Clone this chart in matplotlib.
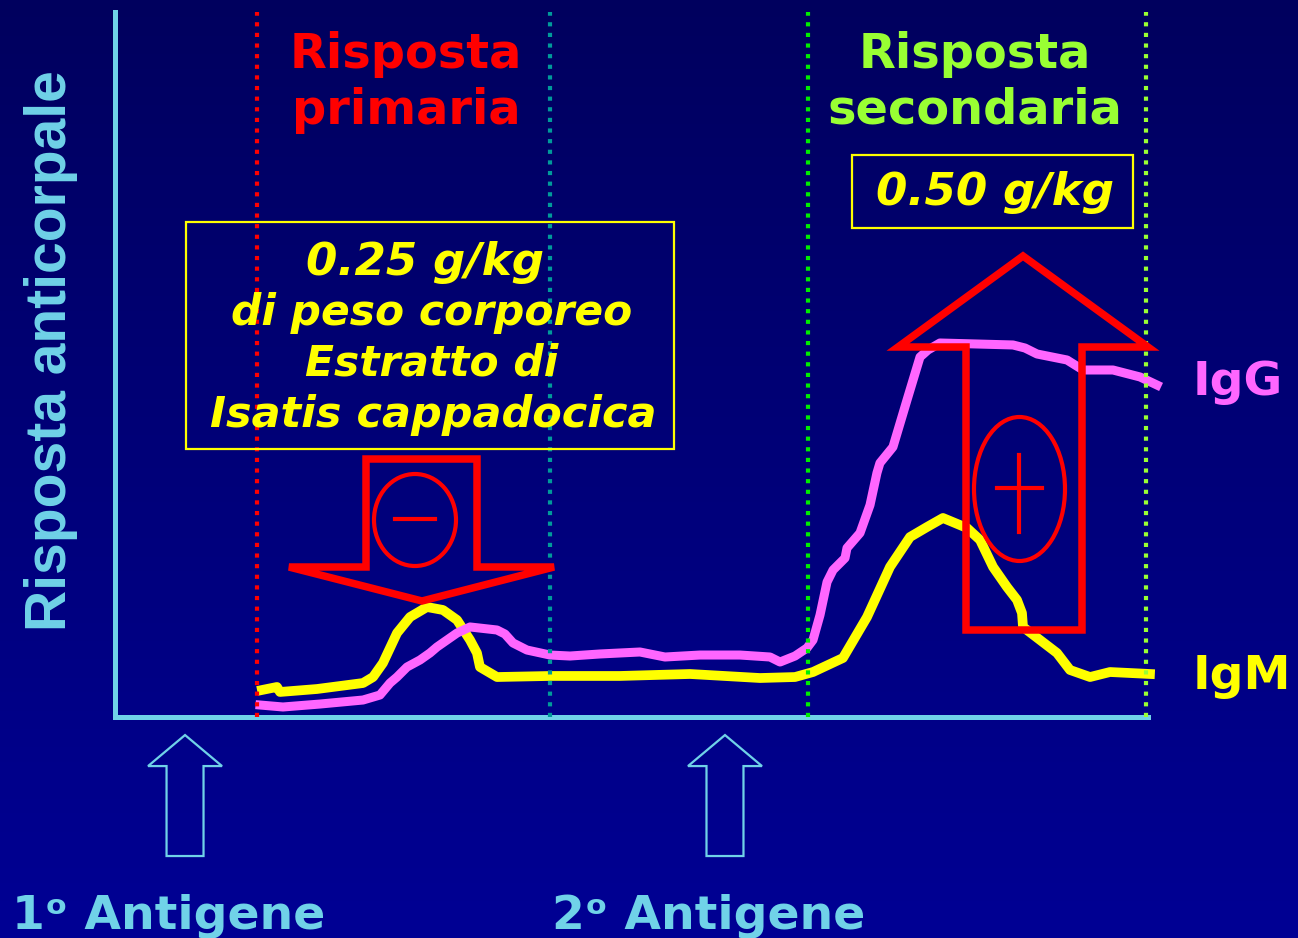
import matplotlib
matplotlib.use("Agg")
import matplotlib.pyplot as plt
from matplotlib.colors import LinearSegmentedColormap
from matplotlib.patches import Polygon, Ellipse, Rectangle, FancyArrow
import numpy as np

# time axis 0..100, response 0..100 (arbitrary units)
igg_x = [14.04, 16.26, 19.85, 24.01, 25.65, 26.62, 27.30, 28.27, 29.53, 30.49, 31.17,
         33.11, 34.37, 36.98, 37.75, 38.53, 39.88, 42.11, 44.05, 46.95, 50.82, 53.24,
         56.63, 60.50, 63.41, 64.38, 65.83, 66.99, 67.57, 68.25, 68.93, 69.51, 70.67,
         70.86, 72.12, 73.09, 73.76, 74.05, 75.31, 76.67, 77.93, 78.70, 79.86, 86.93,
         88.09, 89.26, 92.16, 93.71, 96.61, 99.23, 100.87]
igg_y = [1.70, 1.42, 1.84, 2.41, 3.12, 4.82, 5.67, 7.09, 8.09, 9.08, 9.93,
         11.91, 12.77, 12.34, 11.77, 10.50, 9.50, 8.79, 8.65, 8.94, 9.22, 8.51,
         8.79, 8.79, 8.51, 7.80, 8.65, 9.79, 10.92, 14.47, 19.15, 20.85, 22.55,
         23.97, 26.10, 30.07, 34.61, 36.03, 38.30, 44.96, 51.06, 52.06, 53.05, 52.77,
         52.34, 51.49, 50.64, 49.22, 49.22, 48.23, 47.09]

igm_x = [14.23, 15.68, 15.97, 19.55, 24.01, 24.98, 25.94, 27.30, 28.56, 30.20, 31.75,
         33.11, 34.37, 35.04, 35.33, 36.98, 42.11, 48.89, 55.66, 62.44, 65.83, 67.57,
         70.47, 72.80, 75.02, 76.96, 78.61, 80.15, 82.48, 83.74, 85.00, 86.35, 87.32,
         87.80, 87.90, 89.55, 91.19, 92.45, 94.39, 96.32, 100.19]
igm_y = [3.83, 4.26, 3.55, 3.97, 4.82, 5.67, 7.66, 11.91, 14.18, 15.60, 15.18,
         13.76, 10.92, 9.08, 7.09, 5.67, 5.82, 5.82, 6.10, 5.53, 5.67, 6.38,
         8.37, 14.18, 21.28, 25.53, 26.95, 28.23, 26.81, 25.11, 21.28, 18.44, 16.60,
         14.75, 12.77, 10.92, 9.08, 6.67, 5.67, 6.38, 6.10]

phase_x = [13.75, 42.11, 67.09, 99.81]
phase_colors = ['#ff0000', '#009a9a', '#00ee00', '#99ff33']
antigen_x = [6.78, 59.05]
antigen_labels = ['1ᵒ Antigene', '2ᵒ Antigene']

cyan = '#70d2e8'

fig = plt.figure(figsize=(12.98, 9.38), dpi=100)

# background gradient
bg = fig.add_axes([0, 0, 1, 1], zorder=0)
cmap = LinearSegmentedColormap.from_list('bg', ['#00005e', '#000094'])
bg.imshow(np.linspace(0, 1, 256).reshape(-1, 1), aspect='auto', cmap=cmap,
          extent=[0, 1, 0, 1], origin='upper')
bg.axis('off')

# data axes
ax = fig.add_axes([115 / 1298, 221 / 938, 1033 / 1298, 705 / 938], zorder=1)
ax.patch.set_alpha(0)
ax.set_xlim(0, 100)
ax.set_ylim(0, 100)
for s in ['top', 'right']:
    ax.spines[s].set_visible(False)
for s in ['left', 'bottom']:
    ax.spines[s].set_color(cyan)
    ax.spines[s].set_linewidth(3.6)
ax.set_xticks([])
ax.set_yticks([])

ax.plot(igm_x, igm_y, color='#ffff00', lw=7, solid_joinstyle='round', clip_on=False, zorder=3)
ax.plot(igg_x, igg_y, color='#ff66ff', lw=6.5, solid_joinstyle='round', clip_on=False, zorder=3)

for xp, c in zip(phase_x, phase_colors):
    ax.axvline(xp, color=c, lw=3, linestyle=(0, (1, 1.55)), zorder=4, clip_on=False)

for xa in antigen_x:
    ax.add_patch(FancyArrow(xa, -19.72, 0, 17.16, width=3.58, head_width=7.16,
                            head_length=4.40, length_includes_head=True,
                            fill=False, edgecolor=cyan, lw=1.6, clip_on=False))

ax.text(-6.2, 52, 'Risposta anticorpale', rotation=90, ha='center', va='center',
        color=cyan, fontsize=41, fontweight='bold', family='Liberation Sans',
        transform=ax.transData, clip_on=False)

# overlay in pixel coords for the annotations
ov = fig.add_axes([0, 0, 1, 1], zorder=2)
ov.set_xlim(0, 1298)
ov.set_ylim(938, 0)
ov.axis('off')
ov.patch.set_alpha(0)

red = '#ff0000'
down = [(366, 459), (477, 459), (477, 567), (554, 567), (422, 601), (289, 567), (366, 567)]
ov.add_patch(Polygon(down, closed=True, fill=False, edgecolor=red, lw=5.4, joinstyle='miter'))
ov.add_patch(Ellipse((415, 520), 82, 92, fill=False, edgecolor=red, lw=3))
ov.plot([395, 435], [519, 519], color=red, lw=3)

up = [(966, 630), (1082, 630), (1082, 347), (1148, 347), (1023, 256), (898, 347), (966, 347)]
ov.add_patch(Polygon(up, closed=True, fill=False, edgecolor=red, lw=5.4, joinstyle='miter'))
ov.add_patch(Ellipse((1019.5, 489), 91, 144, fill=False, edgecolor=red, lw=3))
ov.plot([997, 1042], [488, 488], color=red, lw=3)
ov.plot([1019, 1019], [455, 532], color=red, lw=3)

yellow = '#ffff00'
ov.add_patch(Rectangle((186, 222), 488, 227, fill=False, edgecolor=yellow, lw=1.6))
ov.add_patch(Rectangle((852, 155), 281, 73, fill=False, edgecolor=yellow, lw=1.6))

box_font = dict(color=yellow, fontweight='bold', style='italic',
                family='DejaVu Sans', ha='center', va='center')
for txt, xx, yy, fs in [('0.25 g/kg', 425, 262, 32.5), ('di peso corporeo', 432, 313, 30.5),
                        ('Estratto di', 432, 364, 30.5), ('Isatis cappadocica', 433, 415, 31),
                        ('0.50 g/kg', 995, 193, 32.5)]:
    ov.text(xx, yy, txt, fontsize=fs, **box_font)

title_font = dict(fontsize=34.5, fontweight='bold', family='DejaVu Sans', ha='center', va='baseline')
ov.text(406, 68, 'Risposta', color=red, **title_font)
ov.text(406, 124, 'primaria', color=red, **title_font)
ov.text(975, 68, 'Risposta', color='#99ff33', **title_font)
ov.text(975, 124, 'secondaria', color='#99ff33', **title_font)

lab_font = dict(fontsize=34, fontweight='bold', family='DejaVu Sans', ha='left', va='baseline')
ov.text(1193, 395, 'IgG', color='#ff66ff', **lab_font)
ov.text(1193, 689, 'IgM', color=yellow, **lab_font)
ov.text(12, 929, antigen_labels[0], color=cyan, **lab_font)
ov.text(552, 929, antigen_labels[1], color=cyan, **lab_font)

fig.savefig('out.png', dpi=100)
